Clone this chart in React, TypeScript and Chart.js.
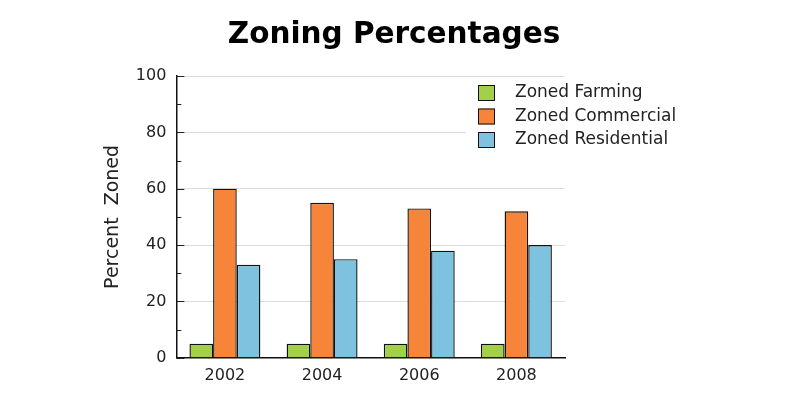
import React, { useEffect, useRef } from "react";
import { Chart, registerables } from "chart.js";

Chart.register(...registerables);

const categories = ["2002", "2004", "2006", "2008"];
const seriesNames = ["Zoned Farming", "Zoned Commercial", "Zoned Residential"];
const farming = [5, 5, 5, 5];
const commercial = [60, 55, 53, 52];
const residential = [33, 35, 38, 40];
const yTicks = [0, 20, 40, 60, 80, 100];
const colors = ["#a2d04a", "#f78539", "#7fc2e0"];
const titleText = "Zoning Percentages";

const FONT = "'DejaVu Sans', Verdana, sans-serif";

const innerTicks = {
  id: "innerTicks",
  afterDraw(chart: any) {
    const y = chart.scales.y;
    const ctx = chart.ctx;
    const left = chart.chartArea.left;
    ctx.save();
    ctx.strokeStyle = "#222";
    ctx.lineWidth = 1;
    for (let v = 0; v <= 100; v += 10) {
      const py = Math.round(y.getPixelForValue(v)) + 0.5;
      const len = v % 20 === 0 ? 8 : 5;
      ctx.beginPath();
      ctx.moveTo(left, py);
      ctx.lineTo(left + len, py);
      ctx.stroke();
    }
    ctx.restore();
  },
};

const titlePlugin = {
  id: "titlePlugin",
  afterDraw(chart: any) {
    const ctx = chart.ctx;
    ctx.save();
    ctx.fillStyle = "#000";
    ctx.font = `bold 29.5px ${FONT}`;
    ctx.textAlign = "center";
    ctx.textBaseline = "middle";
    ctx.fillText(titleText, 386, 27);
    ctx.restore();
  },
};

const boxLegend = {
  id: "boxLegend",
  afterDraw(chart: any) {
    const ctx = chart.ctx;
    const ca = chart.chartArea;
    const x0 = ca.right - 87;
    const y0 = ca.top + 8;
    ctx.save();
    ctx.fillStyle = "#fff";
    ctx.fillRect(x0 - 12, y0, 220, 74);
    ctx.font = `17px ${FONT}`;
    ctx.textBaseline = "middle";
    chart.data.datasets.forEach((ds: any, i: number) => {
      const cy = y0 + 9 + i * 23.5;
      ctx.fillStyle = ds.backgroundColor;
      ctx.fillRect(x0, cy - 8, 17, 16);
      ctx.strokeStyle = "#111";
      ctx.lineWidth = 1;
      ctx.strokeRect(x0 + 0.5, cy - 7.5, 16, 15);
      ctx.fillStyle = "#222";
      ctx.fillText(ds.label, x0 + 37, cy);
    });
    ctx.restore();
  },
};

export default function App() {
  const ref = useRef<HTMLCanvasElement | null>(null);
  useEffect(() => {
    if (!ref.current) return;
    const values = [farming, commercial, residential];
    const chart = new Chart(ref.current, {
      type: "bar",
      data: {
        labels: categories,
        datasets: seriesNames.map((name, i) => ({
          label: name,
          data: values[i],
          backgroundColor: colors[i],
          borderColor: "#111",
          borderWidth: 1.4,
          categoryPercentage: 0.73,
          barPercentage: 1,
        })),
      },
      options: {
        animation: false,
        responsive: true,
        maintainAspectRatio: false,
        layout: { padding: { left: 90, right: 227, top: 68, bottom: 16 } },
        plugins: {
          legend: { display: false },
          tooltip: { enabled: false },
          title: { display: false },
        },
        scales: {
          x: {
            grid: { display: false },
            border: { color: "#111", width: 1.5 },
            ticks: { color: "#222", font: { family: FONT, size: 16 }, padding: 0 },
          },
          y: {
            min: 0,
            max: 100,
            afterBuildTicks: (axis: any) => {
              axis.ticks = yTicks.map((v) => ({ value: v }));
            },
            grid: { color: "#dcdcdc", drawTicks: false, lineWidth: 1 },
            border: { color: "#111", width: 1.5 },
            ticks: { color: "#222", font: { family: FONT, size: 16 }, padding: 10 },
            title: {
              display: true,
              text: "Percent  Zoned",
              color: "#222",
              font: { family: FONT, size: 19 },
              padding: { top: 4, bottom: 1 },
            },
          },
        },
      },
      plugins: [innerTicks, boxLegend, titlePlugin],
    });
    return () => chart.destroy();
  }, []);
  return (
    <div style={{ width: 784, height: 393 }}>
      <canvas ref={ref} />
    </div>
  );
}
